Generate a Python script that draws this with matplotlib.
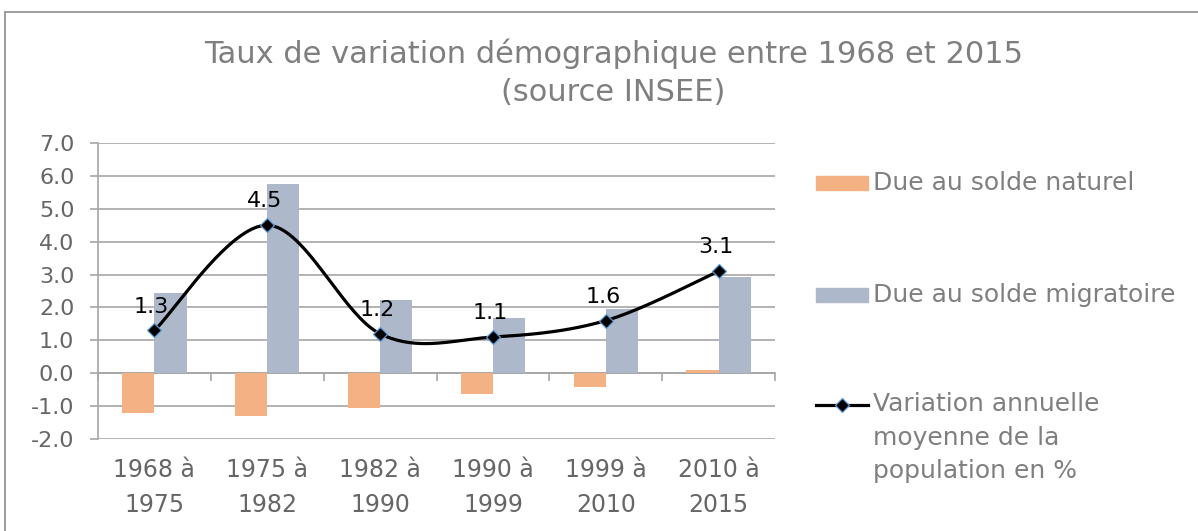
import numpy as np
import matplotlib.pyplot as plt
from matplotlib.lines import Line2D
from matplotlib.patches import Rectangle
from matplotlib.transforms import blended_transform_factory

plt.rcParams['font.family'] = ['DejaVu Sans']

# donnees INSEE
periodes = ["1968 à\n1975", "1975 à\n1982", "1982 à\n1990", "1990 à\n1999", "1999 à\n2010", "2010 à\n2015"]
solde_naturel = [-1.20, -1.29, -1.05, -0.63, -0.41, 0.11]
solde_migratoire = [2.43, 5.74, 2.23, 1.67, 1.95, 2.94]
variation = [1.3, 4.5, 1.2, 1.1, 1.6, 3.1]

c_orange = '#F4B183'
c_bleu = '#ADB9CA'
c_grille = '#A6A6A6'
c_texte = '#666666'
c_gris = '#7F7F7F'

W, H = 1198, 531


def lissage(x, y, n=40):
    # courbe lissee facon excel (bezier cubique / catmull-rom)
    x = np.asarray(x, float)
    y = np.asarray(y, float)
    px = np.concatenate([[x[0]], x, [x[-1]]])
    py = np.concatenate([[y[0]], y, [y[-1]]])
    xs, ys = [], []
    t = np.linspace(0, 1, n)
    for i in range(1, len(px) - 2):
        p0 = np.array([px[i], py[i]])
        p3 = np.array([px[i + 1], py[i + 1]])
        p1 = p0 + (p3 - np.array([px[i - 1], py[i - 1]])) / 6
        p2 = p3 - (np.array([px[i + 2], py[i + 2]]) - p0) / 6
        b = ((1 - t) ** 3)[:, None] * p0 + (3 * (1 - t) ** 2 * t)[:, None] * p1 \
            + (3 * (1 - t) * t ** 2)[:, None] * p2 + (t ** 3)[:, None] * p3
        xs.append(b[:, 0])
        ys.append(b[:, 1])
    return np.concatenate(xs), np.concatenate(ys)


fig = plt.figure(figsize=(W / 100, H / 100), dpi=100)
ax = fig.add_axes([98 / W, 1 - 439 / H, (775 - 98) / W, (439 - 143) / H])

x = np.arange(len(periodes))
w = 0.285
ax.bar(x - w / 2, solde_naturel, w, color=c_orange, zorder=2)
ax.bar(x + w / 2, solde_migratoire, w, color=c_bleu, zorder=2)

lx, ly = lissage(x, variation)
ax.plot(lx, ly, color='black', lw=2.3, zorder=3, solid_capstyle='round')
ax.plot(x, variation, ls='none', marker='D', ms=7.5, mfc='black', mec='#5B9BD5', mew=0.9, zorder=4)
for xi, v in zip(x, variation):
    ax.annotate(f"{v:.1f}", (xi, v), xytext=(-2, 10), textcoords='offset points',
                ha='center', va='bottom', fontsize=16, color='black', zorder=5)

ax.set_xlim(-0.5, len(periodes) - 0.5)
ax.set_ylim(-2, 7)
ax.set_yticks(np.arange(-2, 8, 1))
ax.set_yticklabels([f"{v:.1f}" for v in np.arange(-2, 8, 1)], fontsize=16, color=c_texte)
ax.yaxis.grid(True, color=c_grille, lw=1.2, zorder=0)
ax.set_axisbelow(True)

for s in ['top', 'right']:
    ax.spines[s].set_visible(False)
ax.spines['left'].set_color(c_grille)
ax.spines['left'].set_linewidth(1.2)
ax.spines['bottom'].set_position(('data', 0))
ax.spines['bottom'].set_color(c_grille)
ax.spines['bottom'].set_linewidth(1.2)
ax.spines['bottom'].set_zorder(1)
ax.tick_params(axis='y', length=6, color=c_grille, width=1.2, pad=11)
ax.set_xticks(x)
ax.set_xticklabels([])
ax.tick_params(axis='x', which='major', length=0)
ax.set_xticks(np.arange(-0.5, len(periodes), 1), minor=True)
ax.tick_params(axis='x', which='minor', length=6, color=c_grille, width=1.2, direction='out')

tr = blended_transform_factory(ax.transData, ax.transAxes)
for xi, lab in zip(x, periodes):
    ax.text(xi, -0.065, lab, transform=tr, ha='center', va='top', fontsize=17,
            color=c_texte, linespacing=1.55)

fig.text(0.512, 1 - 73 / H, "Taux de variation démographique entre 1968 et 2015\n(source INSEE)",
         ha='center', va='center', fontsize=22, color=c_gris, linespacing=1.38)

# legende dessinee a la main (la 3e entree est alignee sur sa premiere ligne)
fig.patches.append(Rectangle((816 / W, 1 - 190 / H), 52 / W, 14 / H, transform=fig.transFigure,
                             color=c_orange))
fig.patches.append(Rectangle((816 / W, 1 - 302 / H), 52 / W, 14 / H, transform=fig.transFigure,
                             color=c_bleu))
fig.lines.append(Line2D([816 / W, 868 / W], [1 - 405 / H, 1 - 405 / H], transform=fig.transFigure,
                        color='black', lw=2.3))
fig.lines.append(Line2D([842 / W], [1 - 405 / H], transform=fig.transFigure, marker='D', ms=7,
                        mfc='black', mec='#5B9BD5', mew=0.9))
fig.text(873 / W, 1 - 183 / H, "Due au solde naturel", ha='left', va='center', fontsize=18, color=c_gris)
fig.text(873 / W, 1 - 295 / H, "Due au solde migratoire", ha='left', va='center', fontsize=18, color=c_gris)
fig.text(873 / W, 1 - 392 / H, "Variation annuelle\nmoyenne de la\npopulation en %", ha='left', va='top',
         fontsize=18, color=c_gris, linespacing=1.5)

fig.patches.append(Rectangle((5 / W, -0.1), 1.2, 1 - 11.7 / H + 0.1, transform=fig.transFigure,
                             fill=False, edgecolor='#8C8C8C', lw=1.2))

fig.savefig("out.png", dpi=100)
